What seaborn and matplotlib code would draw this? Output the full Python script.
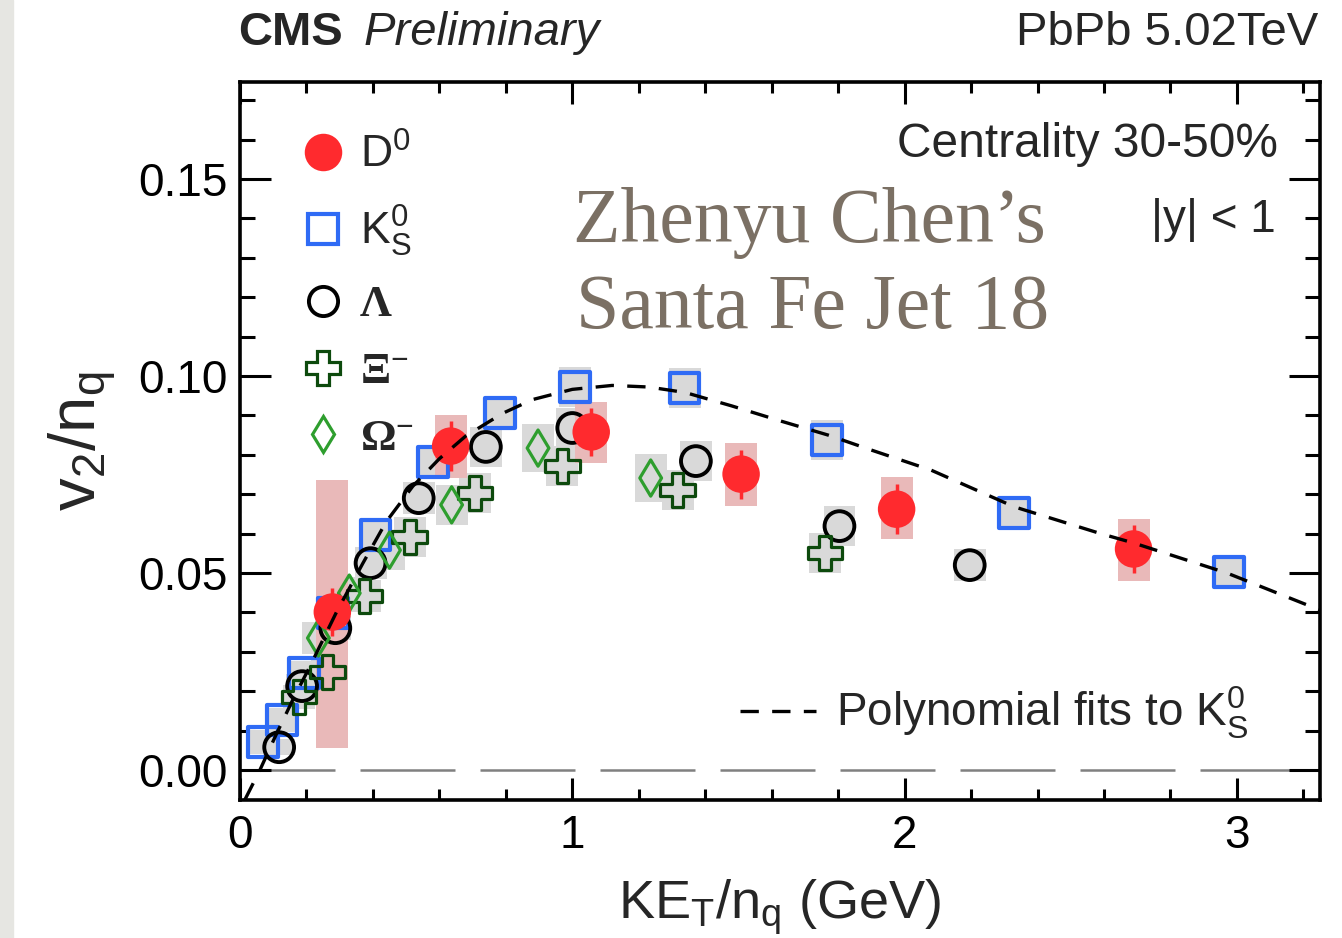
import numpy as np
import pandas as pd
import matplotlib
matplotlib.use("Agg")
import matplotlib.pyplot as plt
from matplotlib.lines import Line2D
from matplotlib.patches import Rectangle
from matplotlib.ticker import MultipleLocator, FormatStrFormatter
import seaborn as sns

sns.set_theme(style="ticks")
plt.rcParams["font.family"] = ["Liberation Sans", "DejaVu Sans"]
plt.rcParams["mathtext.default"] = "regular"

# D0 (filled red), stat errors and systematic box edges
d0_x = [0.278, 0.634, 1.057, 1.508, 1.976, 2.689]
d0_y = [0.0401, 0.0822, 0.0858, 0.0751, 0.0662, 0.0561]
d0_stat = [0.0060, 0.0063, 0.0062, 0.0062, 0.0064, 0.0062]
d0_sys_lo = [0.0056, 0.0741, 0.0779, 0.0670, 0.0586, 0.0480]
d0_sys_hi = [0.0736, 0.0901, 0.0934, 0.0830, 0.0744, 0.0637]

# K0S
ks_x = [0.069, 0.127, 0.193, 0.281, 0.408, 0.580, 0.782, 1.009, 1.338, 1.767, 2.329, 2.976]
ks_y = [0.0071, 0.0127, 0.0246, 0.0398, 0.0596, 0.0782, 0.0906, 0.0972, 0.0970, 0.0838, 0.0652, 0.0503]
ks_sys = [0.003, 0.003, 0.003, 0.004, 0.004, 0.004, 0.004, 0.005, 0.005, 0.005, 0.004, 0.004]

# Lambda
lam_x = [0.118, 0.187, 0.287, 0.393, 0.538, 0.740, 1.000, 1.372, 1.804, 2.196]
lam_y = [0.0058, 0.0213, 0.0360, 0.0525, 0.0690, 0.0820, 0.0868, 0.0784, 0.0619, 0.0520]
lam_sys = [0.002, 0.003, 0.003, 0.004, 0.004, 0.005, 0.005, 0.005, 0.005, 0.004]

# Xi-
xi_x = [0.178, 0.263, 0.375, 0.511, 0.707, 0.970, 1.317, 1.761]
xi_y = [0.0185, 0.0249, 0.0442, 0.0591, 0.0703, 0.0772, 0.0711, 0.0551]
xi_sys = [0.003, 0.004, 0.004, 0.005, 0.005, 0.005, 0.005, 0.005]

# Omega-
om_x = [0.236, 0.329, 0.450, 0.637, 0.897, 1.236]
om_y = [0.0335, 0.0449, 0.0558, 0.0673, 0.0817, 0.0741]
om_sys = [0.004, 0.004, 0.005, 0.005, 0.006, 0.006]

# polynomial fit to K0S
fit_x = [0.015, 0.06, 0.11, 0.16, 0.21, 0.29, 0.37, 0.44, 0.52, 0.60, 0.68, 0.79, 0.88,
         1.00, 1.12, 1.23, 1.34, 1.48, 1.63, 1.77, 1.90, 2.08, 2.33, 2.59, 2.69, 2.97, 3.25]
fit_y = [-0.0075, 0.0, 0.0092, 0.0180, 0.0262, 0.0400, 0.0525, 0.0630, 0.0720, 0.0790, 0.0848,
         0.0905, 0.0940, 0.0966, 0.0976, 0.0972, 0.0958, 0.0924, 0.0885, 0.0850, 0.0812, 0.0761,
         0.0668, 0.0600, 0.0576, 0.0500, 0.0406]

RED = "#ff2a2e"
PINK = "#e9b9b9"
BLUE = "#2f6bf5"
DKGREEN = "#0d4a0d"
GREEN = "#2e9e2e"
GRAY = "#d9d9d9"
BOXW = 0.096

fig = plt.figure(figsize=(13.42, 9.38), dpi=100)
fig.patches.append(Rectangle((0, 0), 13 / 1342, 1, transform=fig.transFigure,
                             color="#e6e6e2", zorder=-10))
ax = fig.add_axes([0.1788, 0.1471, 0.8048, 0.7655])

# systematic boxes
for xs, ys, sy in [(ks_x, ks_y, ks_sys), (lam_x, lam_y, lam_sys),
                   (xi_x, xi_y, xi_sys), (om_x, om_y, om_sys)]:
    ys = np.array(ys)
    sy = np.array(sy)
    ax.bar(xs, 2 * sy, bottom=ys - sy, width=BOXW, color=GRAY, linewidth=0, zorder=1)
ax.bar(d0_x, np.array(d0_sys_hi) - np.array(d0_sys_lo), bottom=d0_sys_lo, width=BOXW,
       color=PINK, linewidth=0, zorder=1.2)

ax.axhline(0, color="#808080", lw=1.8, dashes=(38, 10), zorder=0.5)

sns.scatterplot(x=ks_x, y=ks_y, marker="s", s=460, facecolor="none", edgecolor=BLUE,
                linewidth=3, zorder=3, ax=ax)
sns.scatterplot(x=lam_x, y=lam_y, marker="o", s=460, facecolor="none", edgecolor="black",
                linewidth=2.8, zorder=3, ax=ax)
sns.scatterplot(x=xi_x, y=xi_y, marker="P", s=620, facecolor="none", edgecolor=DKGREEN,
                linewidth=2.3, zorder=3, ax=ax)
sns.scatterplot(x=om_x, y=om_y, marker="d", s=340, facecolor="none", edgecolor=GREEN,
                linewidth=2.3, zorder=3, ax=ax)
ax.errorbar(d0_x, d0_y, yerr=d0_stat, fmt="none", ecolor=RED, elinewidth=2.5,
            capsize=0, zorder=3.4)
sns.scatterplot(x=d0_x, y=d0_y, marker="o", s=729, color=RED, edgecolor="none",
                linewidth=0, zorder=3.5, ax=ax)

fit = pd.DataFrame({"x": fit_x, "y": fit_y})
sns.lineplot(data=fit, x="x", y="y", color="black", lw=2.4, dashes=False, ax=ax, zorder=4)
ax.lines[-1].set_dashes((5.5, 4))

ax.set_xlim(0, 3.25)
ax.set_ylim(-0.0076, 0.1746)
ax.set_xticks([0, 1, 2, 3])
ax.set_xticklabels(["0", "1", "2", "3"])
ax.xaxis.set_minor_locator(MultipleLocator(0.2))
ax.yaxis.set_major_locator(MultipleLocator(0.05))
ax.yaxis.set_minor_locator(MultipleLocator(0.01))
ax.yaxis.set_major_formatter(FormatStrFormatter("%.2f"))
ax.tick_params(which="both", direction="in", top=True, right=True, width=2.2,
               color="black", labelsize=33, labelcolor="black")
ax.tick_params(axis="y", which="major", length=22, pad=9)
ax.tick_params(axis="y", which="minor", length=11)
ax.tick_params(axis="x", which="major", length=16, pad=10)
ax.tick_params(axis="x", which="minor", length=8)
for sp in ax.spines.values():
    sp.set_linewidth(2.6)
    sp.set_color("black")

ax.set_xlabel(r"$KE_T/n_q$ (GeV)", fontsize=39)
ax.set_ylabel(r"$v_2/n_q$", fontsize=47)
ax.xaxis.set_label_coords(0.5, -0.108)
ax.yaxis.set_label_coords(-0.112, 0.5)

ax.text(-0.002, 1.051, "CMS", fontsize=34, fontweight="bold", transform=ax.transAxes,
        va="baseline", ha="left")
ax.text(0.114, 1.051, "Preliminary", fontsize=34, fontstyle="italic",
        transform=ax.transAxes, va="baseline", ha="left")
ax.text(0.998, 1.051, "PbPb 5.02TeV", fontsize=34, transform=ax.transAxes,
        va="baseline", ha="right")
ax.text(0.961, 0.8955, "Centrality 30-50%", fontsize=34.5, transform=ax.transAxes,
        va="baseline", ha="right")
ax.text(0.959, 0.791, "|y| < 1", fontsize=33, transform=ax.transAxes,
        va="baseline", ha="right")
ax.text(0.308, 0.777, "Zhenyu Chen\u2019s", fontsize=56, color="#7b7064",
        family=["Liberation Serif", "DejaVu Serif"], transform=ax.transAxes,
        va="baseline", ha="left")
ax.text(0.311, 0.657, "Santa Fe Jet 18", fontsize=56, color="#7b7064",
        family=["Liberation Serif", "DejaVu Serif"], transform=ax.transAxes,
        va="baseline", ha="left")

handles = [
    Line2D([], [], ls="none", marker="o", ms=27, mfc=RED, mec="none"),
    Line2D([], [], ls="none", marker="s", ms=21, mfc="none", mec=BLUE, mew=3),
    Line2D([], [], ls="none", marker="o", ms=21, mfc="none", mec="black", mew=2.8),
    Line2D([], [], ls="none", marker="P", ms=25, mfc="none", mec=DKGREEN, mew=2.3),
    Line2D([], [], ls="none", marker="d", ms=18.5, mfc="none", mec=GREEN, mew=2.3),
]
labels = [r"$D^0$", r"$K^0_S$", "\u039b", r"$\Xi^{-}$", r"$\Omega^{-}$"]
leg = ax.legend(handles, labels, loc="upper left", bbox_to_anchor=(0.0596, 0.928),
                frameon=False, fontsize=32, handlelength=0.85, handletextpad=0.40,
                labelspacing=0.6, borderpad=0, borderaxespad=0)
for t in leg.get_texts()[2:]:
    t.set_family(["Liberation Serif", "DejaVu Serif"])
    t.set_fontweight("bold")
ax.add_artist(leg)

fit_handle = Line2D([], [], color="black", lw=2.4, dashes=(5.5, 4))
leg2 = ax.legend([fit_handle], [r"Polynomial fits to $K^0_S$"], loc="lower right",
                 bbox_to_anchor=(0.934, 0.082), frameon=False, fontsize=33,
                 handlelength=1.65, handletextpad=0.45, borderpad=0, borderaxespad=0)

fig.savefig("out.png", dpi=100)
